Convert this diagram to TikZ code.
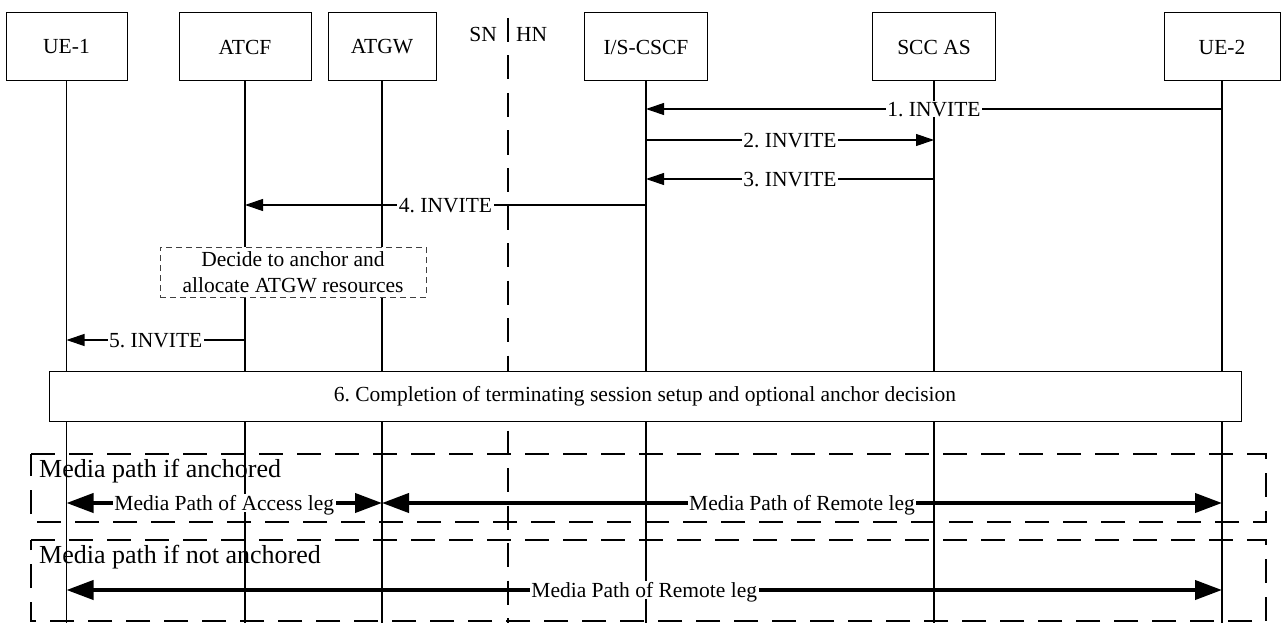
\documentclass[tikz,border=0pt]{standalone}
\usepackage{fontspec}
\setmainfont{Liberation Serif}
\usetikzlibrary{arrows.meta}
\frenchspacing
\begin{document}
\begin{tikzpicture}[x=1pt,y=-1pt,
  ent/.style={draw, line width=1pt, minimum height=68pt, inner sep=0pt, font=\fontsize{21.5}{25}\selectfont},
  life/.style={line width=1.1pt},
  border/.style={line width=1.1pt, dash pattern=on 24pt off 13.5pt},
  msg/.style={line width=1.1pt, -{Triangle[length=18pt,width=12pt]}},
  lbl/.style={fill=white, inner xsep=1.5pt, inner ysep=1pt, text depth=0pt, font=\fontsize{21.5}{25}\selectfont},
  media/.style={line width=4pt, {Triangle[length=27pt,width=19pt]}-{Triangle[length=27pt,width=19pt]}},
  frame/.style={line width=1.1pt, dash pattern=on 24pt off 14pt},
  bigtxt/.style={anchor=base west, inner sep=0pt, font=\fontsize{26}{30}\selectfont},
  ]
\useasboundingbox[fill=white] (0,0) rectangle (1282,623);

% entities
\node[ent, minimum width=121pt] (ue1) at (66.5,47) {UE-1};
\node[ent, minimum width=132pt] (atcf) at (245,47) {ATCF};
\node[ent, minimum width=108pt] (atgw) at (382,47) {ATGW};
\node[ent, minimum width=123pt] (cscf) at (646,47) {I/S-CSCF};
\node[ent, minimum width=123pt] (scc) at (934,47) {SCC AS};
\node[ent, minimum width=116pt] (ue2) at (1222,47) {UE-2};

% lifelines
\foreach \n in {ue1,atcf,atgw,cscf,scc,ue2}{
  \coordinate (\n-end) at (\n |- 0,623);
  \draw[life] (\n.south) -- (\n-end);
}

% SN / HN boundary
\coordinate (bnd1) at (508,18);
\coordinate (bnd2) at (508,623);
\draw[border] (bnd1) -- (bnd2);
\node[anchor=base east, inner sep=0pt, font=\fontsize{21.5}{25}\selectfont] (sn) at (497,42) {SN};
\node[anchor=base west, inner sep=0pt, font=\fontsize{21.5}{25}\selectfont] (hn) at (516,42) {HN};

% media frames
\draw[frame] (31,454) -- (1266,454) -- (1266,522) -- (31,522) -- cycle;
\draw[frame] (31,540) -- (1266,540) -- (1266,621) -- (31,621) -- cycle;
\node[bigtxt] (t1) at (39,477) {Media path if anchored};
\node[bigtxt] (t2) at (39,563) {Media path if not anchored};

% messages
\draw[msg] (ue2 |- 0,109) -- node[lbl] {1. INVITE} (cscf |- 0,109);
\draw[msg] (cscf |- 0,140) -- node[lbl] {2. INVITE} (scc |- 0,140);
\draw[msg] (scc |- 0,179) -- node[lbl] {3. INVITE} (cscf |- 0,179);
\draw[msg] (cscf |- 0,205) -- node[lbl] {4. INVITE} (atcf |- 0,205);

\node[draw, fill=white, line width=1pt, dash pattern=on 6pt off 4pt, draw=black!75,
  minimum width=266pt, minimum height=50pt, inner sep=0pt, align=center,
  font=\fontsize{21.5}{26}\selectfont] (decide) at (293,272) {Decide to anchor and\\allocate ATGW resources};

\draw[msg] (atcf |- 0,340) -- node[lbl] {5. INVITE} (ue1 |- 0,340);

\node[draw, fill=white, line width=1pt, minimum width=1192pt, minimum height=50pt,
  inner sep=0pt, font=\fontsize{21.5}{25}\selectfont] (s6) at (645,396)
  {6. Completion of terminating session setup and optional anchor decision};

% media paths
\draw[media] (ue1 |- 0,503) -- node[lbl] {Media Path of Access leg} (atgw |- 0,503);
\draw[media] (atgw |- 0,503) -- node[lbl] {Media Path of Remote leg} (ue2 |- 0,503);
\draw[media] (ue1 |- 0,590) -- node[lbl] {Media Path of Remote leg} (ue2 |- 0,590);
\end{tikzpicture}
\end{document}
